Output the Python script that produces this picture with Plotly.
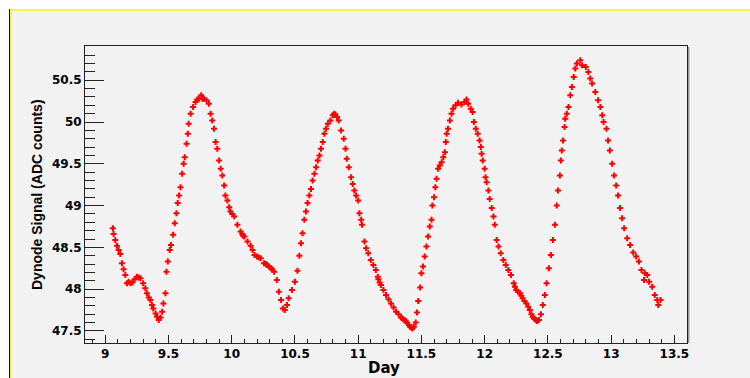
import plotly.graph_objects as go

# Dynode signal readings (day, ADC counts)
day = [
    9.061, 9.066, 9.079, 9.093, 9.106, 9.119, 9.132, 9.145, 9.159, 9.172,
    9.185, 9.200, 9.215, 9.232, 9.250, 9.264, 9.278, 9.300, 9.317, 9.330,
    9.345, 9.357, 9.370, 9.380, 9.398, 9.410, 9.423, 9.437, 9.450, 9.460,
    9.476, 9.484, 9.495, 9.510, 9.520, 9.537, 9.550, 9.563, 9.573, 9.584,
    9.595, 9.608, 9.620, 9.629, 9.643, 9.653, 9.660, 9.675, 9.695, 9.714,
    9.728, 9.740, 9.759, 9.768, 9.780, 9.800, 9.820, 9.833, 9.846, 9.860,
    9.873, 9.886, 9.900, 9.913, 9.926, 9.940, 9.950, 9.966, 9.980, 9.990,
    10.005, 10.020, 10.045, 10.070, 10.085, 10.090, 10.100, 10.125, 10.150, 10.165,
    10.180, 10.200, 10.215, 10.230, 10.255, 10.270, 10.280, 10.295, 10.310, 10.320,
    10.335, 10.357, 10.373, 10.390, 10.405, 10.420, 10.437, 10.450, 10.476, 10.500,
    10.520, 10.535, 10.548, 10.560, 10.574, 10.587, 10.600, 10.614, 10.627, 10.640,
    10.654, 10.667, 10.680, 10.694, 10.706, 10.720, 10.733, 10.746, 10.760, 10.780,
    10.800, 10.810, 10.820, 10.833, 10.846, 10.865, 10.886, 10.900, 10.910, 10.926,
    10.944, 10.957, 10.970, 10.984, 11.000, 11.010, 11.024, 11.030, 11.050, 11.063,
    11.080, 11.100, 11.120, 11.140, 11.155, 11.160, 11.170, 11.180, 11.200, 11.220,
    11.240, 11.260, 11.280, 11.300, 11.320, 11.340, 11.350, 11.365, 11.375, 11.385,
    11.400, 11.410, 11.420, 11.430, 11.440, 11.455, 11.465, 11.475, 11.490, 11.500,
    11.513, 11.526, 11.540, 11.553, 11.566, 11.580, 11.587, 11.600, 11.610, 11.620,
    11.632, 11.645, 11.660, 11.673, 11.686, 11.693, 11.700, 11.710, 11.725, 11.738,
    11.750, 11.770, 11.790, 11.817, 11.840, 11.857, 11.870, 11.890, 11.905, 11.915,
    11.930, 11.945, 11.960, 11.970, 11.976, 11.985, 12.000, 12.007, 12.016, 12.030,
    12.040, 12.056, 12.070, 12.080, 12.095, 12.110, 12.127, 12.148, 12.167, 12.187,
    12.208, 12.230, 12.240, 12.250, 12.265, 12.280, 12.290, 12.300, 12.315, 12.330,
    12.345, 12.357, 12.370, 12.380, 12.390, 12.405, 12.415, 12.430, 12.445, 12.460,
    12.476, 12.490, 12.508, 12.524, 12.540, 12.556, 12.570, 12.580, 12.595, 12.603,
    12.610, 12.620, 12.632, 12.637, 12.650, 12.663, 12.677, 12.690, 12.704, 12.717,
    12.730, 12.756, 12.770, 12.800, 12.820, 12.835, 12.850, 12.875, 12.897, 12.915,
    12.930, 12.940, 12.963, 12.976, 12.990, 13.008, 13.024, 13.040, 13.055, 13.070,
    13.087, 13.103, 13.127, 13.150, 13.175, 13.198, 13.220, 13.240, 13.260, 13.267,
    13.286, 13.300, 13.325, 13.345, 13.365, 13.373, 13.390,
]
signal = [
    48.73, 48.66, 48.59, 48.52, 48.47, 48.42, 48.31, 48.24, 48.17, 48.07,
    48.09, 48.07, 48.08, 48.12, 48.15, 48.14, 48.13, 48.07, 48.01, 47.95,
    47.90, 47.87, 47.81, 47.77, 47.71, 47.67, 47.63, 47.66, 47.73, 47.83,
    47.95, 48.21, 48.33, 48.47, 48.53, 48.65, 48.79, 48.91, 49.03, 49.12,
    49.22, 49.38, 49.50, 49.58, 49.74, 49.86, 49.98, 50.10, 50.18, 50.24,
    50.27, 50.28, 50.32, 50.28, 50.28, 50.26, 50.22, 50.10, 50.02, 49.92,
    49.76, 49.68, 49.54, 49.44, 49.36, 49.24, 49.12, 49.06, 48.98, 48.93,
    48.90, 48.87, 48.77, 48.69, 48.66, 48.64, 48.63, 48.57, 48.52, 48.47,
    48.41, 48.39, 48.38, 48.37, 48.31, 48.30, 48.29, 48.27, 48.25, 48.24,
    48.21, 48.11, 47.97, 47.87, 47.77, 47.75, 47.81, 47.89, 47.99, 48.09,
    48.22, 48.40, 48.55, 48.67, 48.83, 48.93, 49.03, 49.12, 49.20, 49.30,
    49.38, 49.46, 49.54, 49.60, 49.68, 49.76, 49.86, 49.92, 49.98, 50.02,
    50.08, 50.10, 50.09, 50.06, 50.02, 49.90, 49.80, 49.68, 49.56, 49.46,
    49.34, 49.26, 49.18, 49.12, 49.06, 48.91, 48.83, 48.77, 48.57, 48.49,
    48.43, 48.35, 48.29, 48.23, 48.15, 48.12, 48.08, 48.05, 47.99, 47.93,
    47.88, 47.83, 47.78, 47.73, 47.70, 47.66, 47.65, 47.63, 47.62, 47.60,
    47.57, 47.55, 47.54, 47.53, 47.55, 47.60, 47.72, 47.86, 48.02, 48.19,
    48.27, 48.39, 48.51, 48.63, 48.75, 48.83, 49.00, 49.10, 49.22, 49.32,
    49.44, 49.48, 49.52, 49.58, 49.64, 49.76, 49.86, 49.92, 50.02, 50.10,
    50.16, 50.20, 50.23, 50.21, 50.24, 50.27, 50.22, 50.16, 50.12, 50.00,
    49.92, 49.86, 49.78, 49.70, 49.62, 49.54, 49.44, 49.34, 49.28, 49.18,
    49.08, 48.97, 48.87, 48.77, 48.59, 48.51, 48.43, 48.35, 48.29, 48.23,
    48.17, 48.07, 48.03, 47.99, 47.97, 47.95, 47.92, 47.89, 47.86, 47.83,
    47.79, 47.75, 47.70, 47.67, 47.65, 47.63, 47.62, 47.63, 47.70, 47.81,
    47.93, 48.07, 48.25, 48.41, 48.59, 48.77, 49.00, 49.18, 49.36, 49.54,
    49.66, 49.78, 49.94, 50.04, 50.10, 50.18, 50.32, 50.42, 50.54, 50.64,
    50.70, 50.74, 50.68, 50.66, 50.60, 50.52, 50.46, 50.36, 50.26, 50.18,
    50.08, 50.00, 49.92, 49.78, 49.66, 49.50, 49.36, 49.24, 49.12, 48.97,
    48.85, 48.73, 48.61, 48.53, 48.44, 48.39, 48.33, 48.23, 48.11, 48.19,
    48.17, 48.09, 48.03, 47.93, 47.87, 47.81, 47.87,
]

x_range = [8.84, 13.60]
y_range = [47.356, 50.91]
x_ticks = [9, 9.5, 10, 10.5, 11, 11.5, 12, 12.5, 13, 13.5]
y_ticks = [47.5, 48, 48.5, 49, 49.5, 50, 50.5]

W, H = 750, 378
L, R, T, B = 85, 63, 46, 35
pw, ph = W - L - R, H - T - B


def px(xp):
    return (xp - L) / pw


def py(yp):
    return (H - B - yp) / ph


fig = go.Figure()
fig.add_trace(go.Scatter(
    x=day, y=signal, mode="markers",
    marker=dict(symbol="cross", size=5, color="#ff0000", line=dict(width=0)),
    showlegend=False, hoverinfo="x+y",
))

tick_font = dict(family="DejaVu Sans", size=12, color="black", weight="bold")

common_axis = dict(
    showgrid=False, zeroline=False, showline=True, linecolor="#222222",
    linewidth=1, mirror=True, ticks="inside", tickcolor="#222222",
    tickfont=tick_font,
)

fig.update_xaxes(
    range=x_range, tickmode="array", tickvals=x_ticks, ticklen=8,
    minor=dict(dtick=0.1, ticklen=4, ticks="inside", tickcolor="#222222"),
    **common_axis,
)
fig.update_yaxes(
    range=y_range, tickmode="array", tickvals=y_ticks, ticklen=19,
    minor=dict(dtick=0.1, ticklen=10, ticks="inside", tickcolor="#222222"),
    **common_axis,
)

shapes = [
    # white strip above and to the left of the canvas frame
    dict(type="rect", xref="paper", yref="paper", x0=px(0), x1=px(W),
         y0=py(9), y1=py(0), fillcolor="white", line_width=0, layer="below"),
    dict(type="rect", xref="paper", yref="paper", x0=px(0), x1=px(9),
         y0=py(H), y1=py(0), fillcolor="white", line_width=0, layer="below"),
    # yellow frame edges
    dict(type="rect", xref="paper", yref="paper", x0=px(9), x1=px(W),
         y0=py(11), y1=py(9), fillcolor="#f8f840", line_width=0, layer="below"),
    dict(type="rect", xref="paper", yref="paper", x0=px(10), x1=px(12),
         y0=py(H), y1=py(9), fillcolor="#f8f840", line_width=0, layer="below"),
    dict(type="rect", xref="paper", yref="paper", x0=px(9), x1=px(10),
         y0=py(H), y1=py(9), fillcolor="black", line_width=0, layer="below"),
    # frame shadow on the right side
    dict(type="rect", xref="paper", yref="paper", x0=px(687.5), x1=px(689.5),
         y0=py(343), y1=py(47), fillcolor="#9a9a9a", line_width=0, layer="below"),
]

annotations = [
    dict(text="Day", xref="paper", yref="paper", x=px(384), y=py(368),
         xanchor="center", yanchor="middle", showarrow=False,
         font=dict(family="DejaVu Sans", size=15, color="black", weight="bold")),
    dict(text="Dynode Signal (ADC counts)", xref="paper", yref="paper",
         x=px(37), y=py(195), xanchor="center", yanchor="middle",
         textangle=-90, showarrow=False,
         font=dict(family="Liberation Sans", size=14, color="black", weight="bold")),
]

fig.update_layout(
    width=W, height=H,
    margin=dict(l=L, r=R, t=T, b=B),
    paper_bgcolor="#f2f2f2", plot_bgcolor="#f2f2f2",
    shapes=shapes, annotations=annotations,
)

fig.write_html("out.html")
